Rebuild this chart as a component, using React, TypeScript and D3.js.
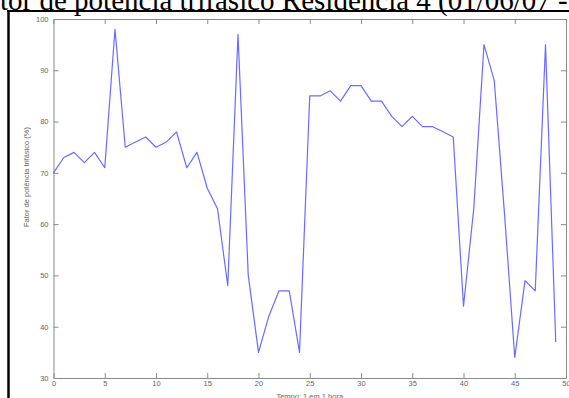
import { useRef, useEffect } from 'react';
import * as d3 from 'd3';

// hour index 0..49
const hours = d3.range(0, 50);

// fator de potência trifásico (%)
const powerFactor = [
    70, 73, 74, 72, 74, 71, 98, 75, 76, 77,
    75, 76, 78, 71, 74, 67, 63, 48, 97, 50,
    35, 42, 47, 47, 35, 85, 85, 86, 84, 87,
    87, 84, 84, 81, 79, 81, 79, 79, 78, 77,
    44, 63, 95, 88, 62, 34, 49, 47, 95, 37,
];

const xTicks = [0, 5, 10, 15, 20, 25, 30, 35, 40, 45, 50];
const yTicks = [30, 40, 50, 60, 70, 80, 90, 100];

const titleText = 'Fator de potência trifásico Residência 4 (01/06/07 -';
const xLabel = 'Tempo: 1 em 1 hora';
const yLabel = 'Fator de potência trifásico (%)';

const PowerFactorChart = () => {

    const svgRef = useRef<SVGSVGElement | null>(null);

    const renderChart = () => {
        const svgElement = svgRef.current;
        if (!svgElement) return;

        const width = 569;
        const height = 398;
        const margin = { top: 19, right: 3, bottom: 20, left: 53.5 };

        const svg = d3.select(svgElement)
            .attr('width', width)
            .attr('height', height);

        svg.selectAll('*').remove();

        const data = hours.map((h, i) => ({ hour: h, value: powerFactor[i] }));

        const x = d3.scaleLinear()
            .domain([0, 50])
            .range([margin.left, width - margin.right]);

        const y = d3.scaleLinear()
            .domain([30, 100])
            .range([height - margin.bottom, margin.top]);

        // title, cut at the top and left like the scanned figure
        svg.append('text')
            .attr('x', -29)
            .attr('y', 9.5)
            .text(titleText)
            .style('font-family', '"Liberation Serif", "Times New Roman", serif')
            .style('font-size', '29px')
            .style('fill', '#000');

        // black page frame
        svg.append('line')
            .attr('x1', 7).attr('x2', width)
            .attr('y1', 11).attr('y2', 11)
            .attr('stroke', '#000')
            .attr('stroke-width', 2);

        svg.append('line')
            .attr('x1', 8.5).attr('x2', 8.5)
            .attr('y1', 10).attr('y2', height)
            .attr('stroke', '#000')
            .attr('stroke-width', 2.5);

        const axisColor = '#8a8a8a';
        const labelColor = '#666';

        const xAxis = svg.append('g')
            .attr('transform', `translate(0, ${height - margin.bottom})`)
            .call(d3.axisBottom(x)
                .tickValues(xTicks)
                .tickSizeInner(-5)
                .tickSizeOuter(0)
                .tickPadding(3)
                .tickFormat(d3.format('d'))
            );

        const xTop = svg.append('g')
            .attr('transform', `translate(0, ${margin.top})`)
            .call(d3.axisTop(x)
                .tickValues(xTicks)
                .tickSizeInner(-5)
                .tickSizeOuter(0)
                .tickFormat(() => '')
            );

        const yAxis = svg.append('g')
            .attr('transform', `translate(${margin.left}, 0)`)
            .call(d3.axisLeft(y)
                .tickValues(yTicks)
                .tickSizeInner(-5)
                .tickSizeOuter(0)
                .tickPadding(5)
                .tickFormat(d3.format('d'))
            );

        const yRight = svg.append('g')
            .attr('transform', `translate(${width - margin.right}, 0)`)
            .call(d3.axisRight(y)
                .tickValues(yTicks)
                .tickSizeInner(-5)
                .tickSizeOuter(0)
                .tickFormat(() => '')
            );

        [xAxis, xTop, yAxis, yRight].forEach(g => {
            g.selectAll('path, line')
                .attr('stroke', axisColor)
                .attr('stroke-width', 1);
            g.selectAll('text')
                .attr('fill', labelColor)
                .style('font-family', '"Liberation Sans", Arial, sans-serif')
                .style('font-size', '7.5px');
        });

        svg.append('text')
            .attr('x', (margin.left + width - margin.right) / 2)
            .attr('y', height + 1)
            .attr('text-anchor', 'middle')
            .text(xLabel)
            .style('font-family', '"Liberation Sans", Arial, sans-serif')
            .style('font-size', '7.5px')
            .style('fill', labelColor);

        svg.append('text')
            .attr('transform', `translate(29, 177) rotate(-90)`)
            .attr('text-anchor', 'middle')
            .text(yLabel)
            .style('font-family', '"Liberation Sans", Arial, sans-serif')
            .style('font-size', '7.5px')
            .style('fill', labelColor);

        const line = d3.line<{ hour: number, value: number }>()
            .x(d => x(d.hour))
            .y(d => y(d.value));

        svg.append('path')
            .datum(data)
            .attr('fill', 'none')
            .attr('stroke', '#6b6bff')
            .attr('stroke-width', 1.2)
            .attr('stroke-linejoin', 'round')
            .attr('d', line);
    };

    useEffect(() => {
        renderChart();
    }, []);

    return (
        <div style={{ position: 'absolute', left: 0, top: 0, width: 569, height: 398, background: '#fff' }}>
            <svg ref={svgRef} style={{ display: 'block' }}></svg>
        </div>
    );
};

export default function App() {
    return <PowerFactorChart />;
}
